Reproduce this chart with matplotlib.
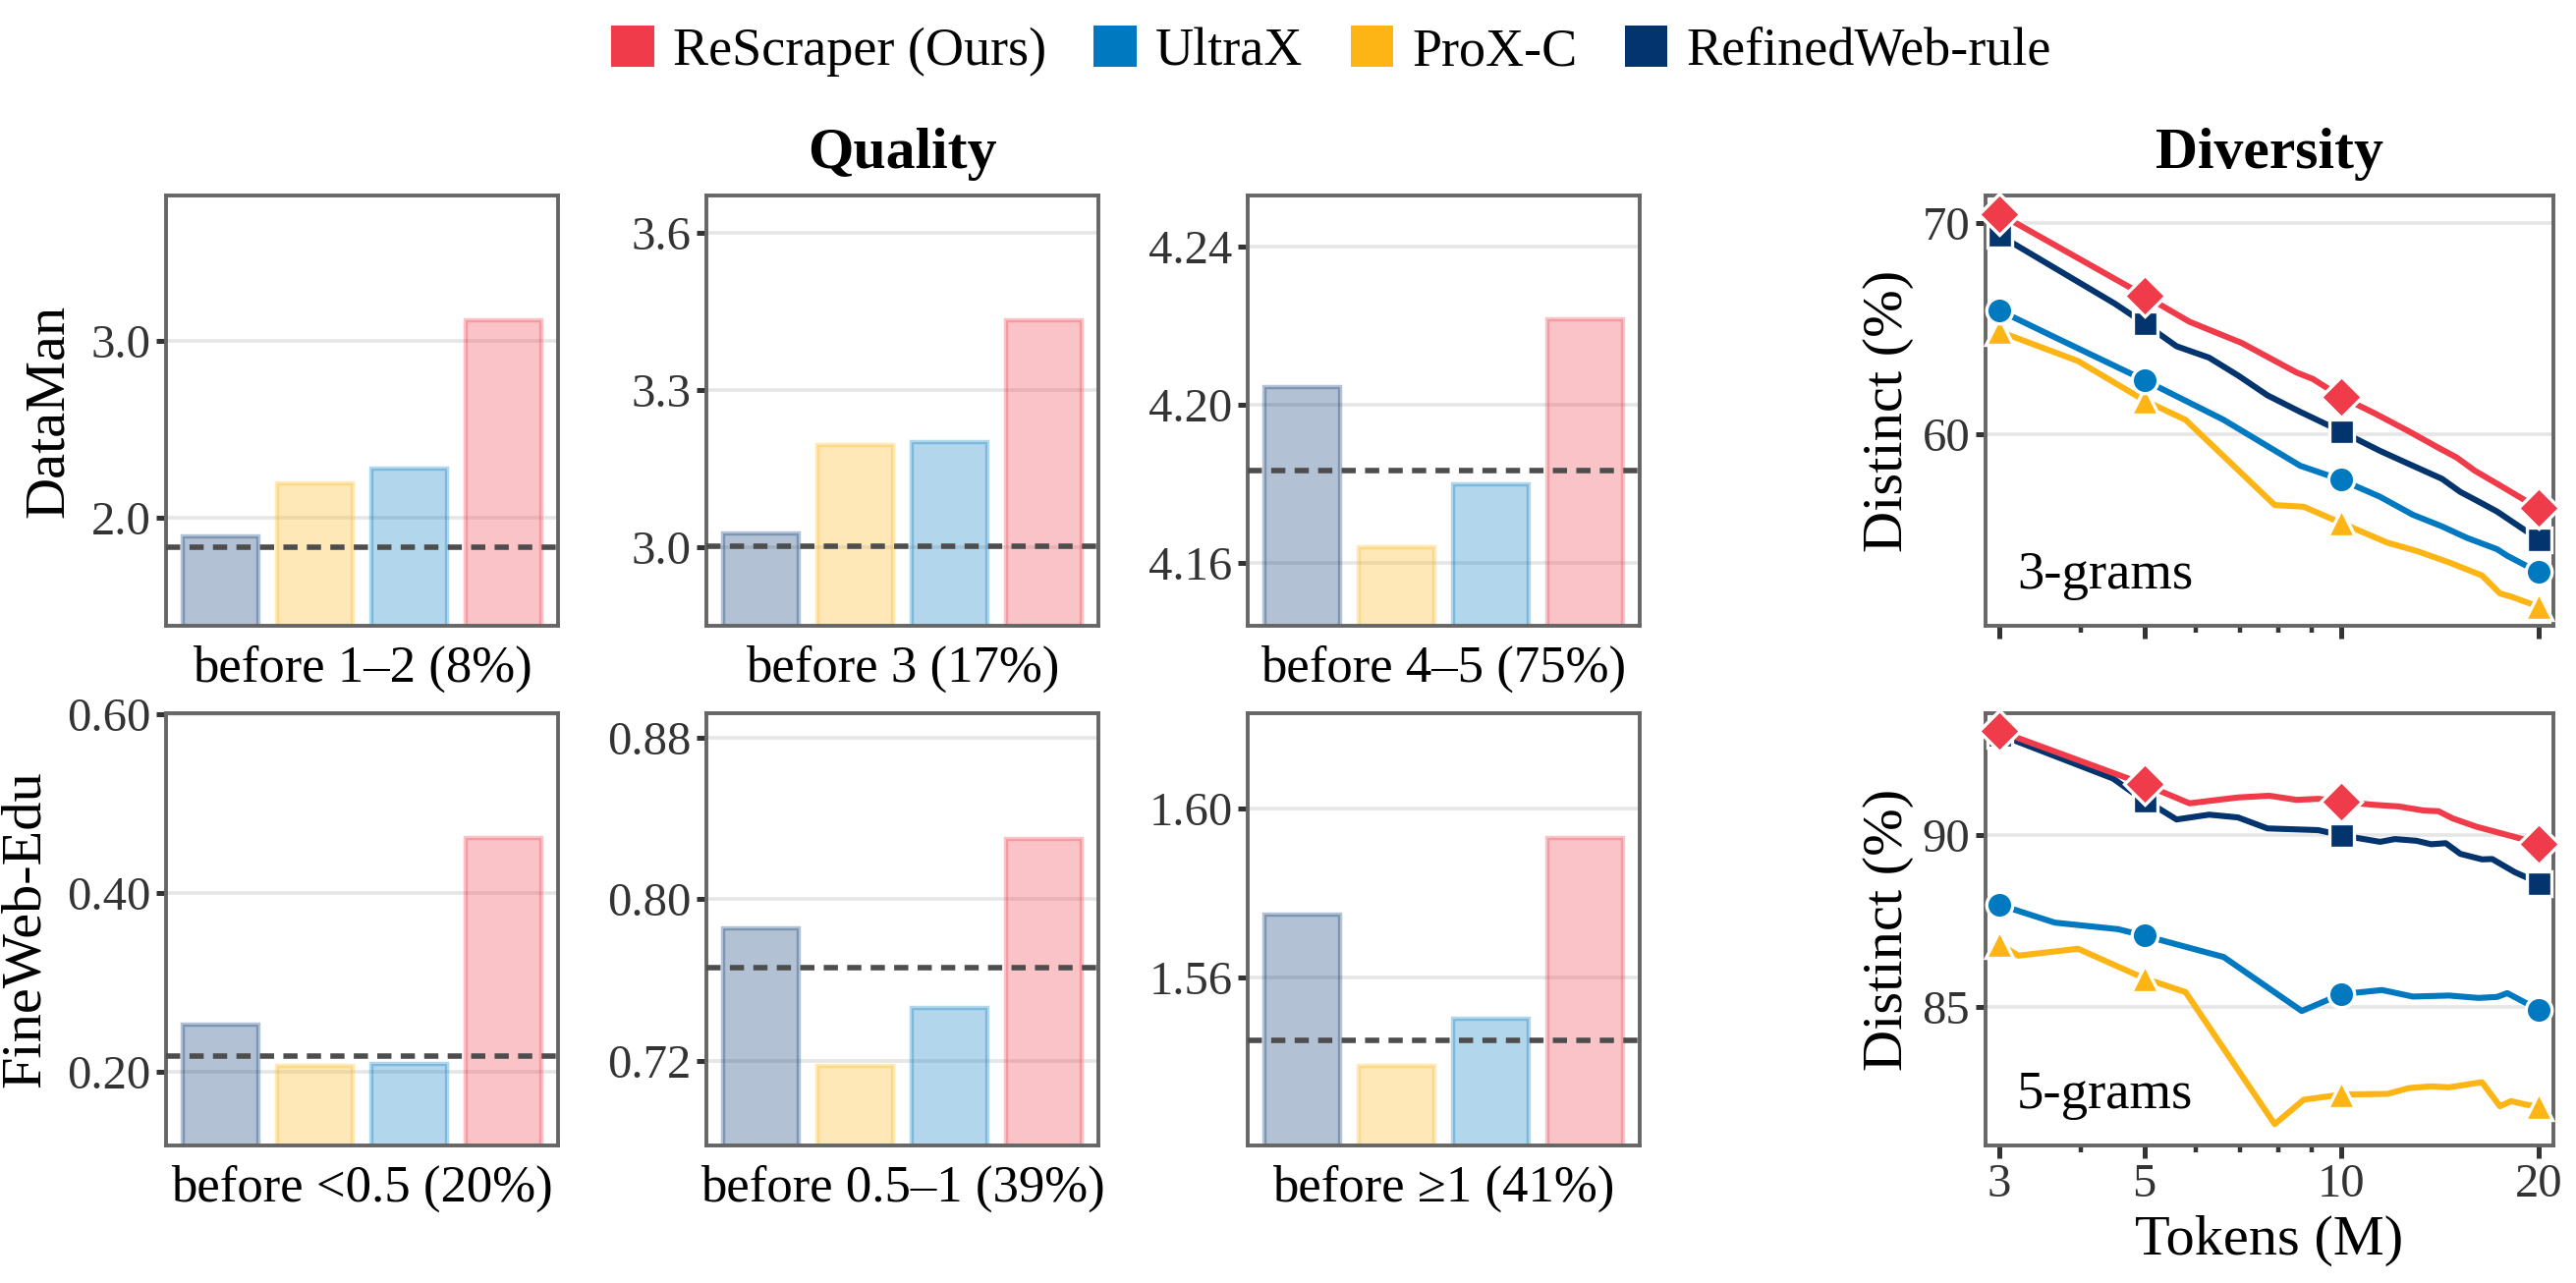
import numpy as np
import matplotlib
matplotlib.use("Agg")
import matplotlib.pyplot as plt
from matplotlib.patches import Patch
from matplotlib.ticker import FixedLocator, NullFormatter, FormatStrFormatter

plt.rcParams['font.family'] = ['Liberation Serif', 'DejaVu Serif']

# ---------------- data ----------------
metodos = ['RefinedWeb-rule', 'ProX-C', 'UltraX', 'ReScraper (Ours)']
colores = {'ReScraper (Ours)': '#EF3B4A', 'UltraX': '#0079C1',
           'ProX-C': '#FDB515', 'RefinedWeb-rule': '#03346E'}

# calidad (barras): orden RefinedWeb, ProX-C, UltraX, ReScraper
dataman_etiquetas = ['before 1–2 (8%)', 'before 3 (17%)', 'before 4–5 (75%)']
dataman_valores = [[1.897, 2.197, 2.277, 3.116],
                   [3.025, 3.194, 3.201, 3.434],
                   [4.2044, 4.1641, 4.1799, 4.2215]]
dataman_antes = [1.837, 3.002, 4.1833]
dataman_ticks = [[2.0, 3.0], [3.0, 3.3, 3.6], [4.16, 4.20, 4.24]]
dataman_lims = [(1.393, 3.818), (2.849, 3.672), (4.1442, 4.2528)]

fineweb_etiquetas = ['before <0.5 (20%)', 'before 0.5–1 (39%)', 'before ≥1 (41%)']
fineweb_valores = [[0.252, 0.2066, 0.2084, 0.4613],
                   [0.7854, 0.7177, 0.7464, 0.830],
                   [1.5749, 1.5391, 1.5502, 1.5929]]
fineweb_antes = [0.2168, 0.7662, 1.5451]
fineweb_ticks = [[0.20, 0.40, 0.60], [0.72, 0.80, 0.88], [1.56, 1.60]]
fineweb_lims = [(0.117, 0.601), (0.6783, 0.8919), (1.5202, 1.6225)]

# diversidad (lineas): tokens (M) y distinct (%)
tri_x = {
    'ReScraper (Ours)': [3, 5, 5.86, 7.05, 8.54, 9.05, 10, 11.24, 12.69, 14.07, 15.0, 15.98, 17.47, 20],
    'RefinedWeb-rule': [3, 4.51, 5, 5.60, 6.28, 6.96, 7.71, 8.65, 10, 11.46, 12.69, 14.25, 15.2, 16.4, 17.3, 20],
    'UltraX': [3, 3.63, 5, 6.61, 8.65, 10, 11.46, 12.86, 14.25, 15.55, 17.3, 17.93, 20],
    'ProX-C': [3, 3.19, 3.96, 5, 5.78, 7.91, 8.76, 10, 11.76, 13.03, 14.6, 16.4, 17.47, 18.17, 20],
}
tri_y = {
    'ReScraper (Ours)': [70.42, 66.55, 65.31, 64.30, 62.91, 62.60, 61.75, 60.98, 60.12, 59.35, 58.89, 58.27, 57.57, 56.49],
    'RefinedWeb-rule': [69.41, 66.16, 65.23, 64.15, 63.61, 62.76, 61.83, 61.05, 60.12, 59.20, 58.58, 57.88, 57.26, 56.72, 56.33, 55.02],
    'UltraX': [65.85, 64.61, 62.55, 60.67, 58.50, 57.83, 57.03, 56.18, 55.63, 55.09, 54.55, 54.24, 53.47],
    'ProX-C': [64.85, 64.54, 63.45, 61.59, 60.67, 56.64, 56.56, 55.79, 54.86, 54.47, 53.93, 53.31, 52.46, 52.31, 51.84],
}
cinco_x = {
    'ReScraper (Ours)': [3, 5, 5.86, 6.95, 7.76, 8.54, 9.22, 10, 11.14, 12.22, 13.36, 14.07, 14.8, 16.08, 18.17, 20],
    'RefinedWeb-rule': [3, 4.48, 5, 5.25, 5.60, 6.28, 6.95, 7.71, 9.22, 10, 11.46, 12.07, 13.03, 13.71, 14.44, 15.2, 16.4, 17.0, 18.4, 20],
    'UltraX': [3, 3.65, 4.56, 5, 6.61, 8.70, 10, 11.54, 12.86, 14.6, 16.2, 17.3, 17.93, 20],
    'ProX-C': [3, 3.21, 3.96, 5, 5.78, 7.91, 8.76, 10, 11.76, 12.69, 13.71, 14.6, 16.4, 17.47, 18.17, 19.11, 20],
}
cinco_y = {
    'ReScraper (Ours)': [93.03, 91.48, 90.93, 91.10, 91.15, 91.03, 91.06, 90.98, 90.89, 90.84, 90.72, 90.70, 90.49, 90.25, 89.98, 89.76],
    'RefinedWeb-rule': [92.93, 91.65, 91.0, 90.79, 90.46, 90.60, 90.52, 90.20, 90.15, 90.0, 89.81, 89.89, 89.84, 89.74, 89.77, 89.46, 89.30, 89.31, 88.93, 88.62],
    'UltraX': [87.98, 87.46, 87.27, 87.08, 86.46, 84.89, 85.38, 85.50, 85.31, 85.34, 85.27, 85.30, 85.41, 84.93],
    'ProX-C': [86.84, 86.50, 86.70, 85.84, 85.44, 81.60, 82.31, 82.46, 82.48, 82.65, 82.70, 82.67, 82.82, 82.12, 82.27, 82.17, 82.12],
}
tokens_marcados = [3, 5, 10, 20]
marcadores = {'ReScraper (Ours)': ('D', 10.5), 'UltraX': ('o', 9.5),
              'ProX-C': ('^', 10), 'RefinedWeb-rule': ('s', 9)}

# ---------------- figura ----------------
W, H = 2622, 1306
fig = plt.figure(figsize=(W / 200, H / 200), dpi=200)


def caja(x0, y0, x1, y1):
    return [x0 / W, 1 - y1 / H, (x1 - x0) / W, (y1 - y0) / H]


GRIS_SPINE = '#666666'
GRIS_TEXTO = '#333333'


def estilo(ax):
    for s in ax.spines.values():
        s.set_color(GRIS_SPINE)
        s.set_linewidth(1.4)
    ax.tick_params(axis='both', which='major', direction='out', length=3.5, width=1.8,
                   color=GRIS_TEXTO, labelcolor=GRIS_TEXTO, labelsize=17.5, pad=2)
    ax.grid(axis='y', color='#E6E6E6', linewidth=1.3)
    ax.set_axisbelow(True)


def graficar_barras(ax, valores, antes, ticks, lims, etiqueta, formato):
    pos = np.arange(len(metodos))
    for p, m, v in zip(pos, metodos, valores):
        ax.bar(p, v, width=0.8, color=colores[m], alpha=0.3,
               edgecolor=colores[m], linewidth=1.6, zorder=2)
    ax.axhline(antes, color='#4D4D4D', linewidth=2.0, linestyle=(0, (2.6, 1.7)), zorder=3)
    ax.set_xlim(-0.58, 3.58)
    ax.set_ylim(*lims)
    ax.set_xticks([])
    ax.yaxis.set_major_locator(FixedLocator(ticks))
    ax.yaxis.set_major_formatter(FormatStrFormatter(formato))
    ax.set_xlabel(etiqueta, fontsize=19, labelpad=7)
    estilo(ax)


lefts = [169, 719, 1270]
filas = [(199, 637), (726, 1166)]
formatos_dm = ['%.1f', '%.1f', '%.2f']

for i in range(3):
    ax = fig.add_axes(caja(lefts[i], filas[0][0], lefts[i] + 399, filas[0][1]))
    graficar_barras(ax, dataman_valores[i], dataman_antes[i], dataman_ticks[i],
                    dataman_lims[i], dataman_etiquetas[i], formatos_dm[i])
    if i == 0:
        ax.set_ylabel('DataMan', fontsize=21, labelpad=6)
    if i == 1:
        ax.set_title('Quality', fontsize=21.5, fontweight='bold', pad=10)

    ax = fig.add_axes(caja(lefts[i], filas[1][0], lefts[i] + 399, filas[1][1]))
    graficar_barras(ax, fineweb_valores[i], fineweb_antes[i], fineweb_ticks[i],
                    fineweb_lims[i], fineweb_etiquetas[i], '%.2f')
    if i == 0:
        ax.set_ylabel('FineWeb-Edu', fontsize=21, labelpad=6)


def graficar_lineas(ax, xs, ys, lims, ticks, texto):
    for m in ['ProX-C', 'UltraX', 'RefinedWeb-rule', 'ReScraper (Ours)']:
        x = np.array(xs[m], dtype=float)
        y = np.array(ys[m], dtype=float)
        idx = list(np.where(np.isin(x, tokens_marcados))[0])
        mk, ms = marcadores[m]
        ax.plot(x, y, color=colores[m], linewidth=2.2, marker=mk, markersize=ms,
                markevery=idx, markeredgecolor='white', markeredgewidth=1.2,
                zorder=3, clip_on=False)
    ax.set_xscale('log')
    ax.set_xlim(2.855, 21.05)
    ax.set_ylim(*lims)
    ax.set_xticks(tokens_marcados)
    ax.xaxis.set_minor_formatter(NullFormatter())
    ax.yaxis.set_major_locator(FixedLocator(ticks))
    ax.set_ylabel('Distinct (%)', fontsize=21, labelpad=3)
    ax.text(0.056, 0.087, texto, transform=ax.transAxes, fontsize=19.7, color='black')
    estilo(ax)
    ax.tick_params(axis='x', which='major', length=4.5, width=1.8)
    ax.tick_params(axis='x', which='minor', length=2.5, width=1.6, color=GRIS_TEXTO)


ax_tri = fig.add_axes(caja(2020.5, 199, 2598.5, 637))
graficar_lineas(ax_tri, tri_x, tri_y, (50.93, 71.28), [60, 70], '3-grams')
ax_tri.xaxis.set_major_formatter(NullFormatter())
ax_tri.set_title('Diversity', fontsize=21.5, fontweight='bold', pad=10)

ax_cin = fig.add_axes(caja(2020.5, 726, 2598.5, 1166))
graficar_lineas(ax_cin, cinco_x, cinco_y, (80.98, 93.55), [85, 90], '5-grams')
ax_cin.set_xticklabels(['3', '5', '10', '20'])
ax_cin.set_xlabel('Tokens (M)', fontsize=21, labelpad=3)

# leyenda
orden = ['ReScraper (Ours)', 'UltraX', 'ProX-C', 'RefinedWeb-rule']
manejadores = [Patch(facecolor=colores[m], edgecolor='none', label=m) for m in orden]
fig.legend(handles=manejadores, loc='center', bbox_to_anchor=(0.5168, 0.960), ncol=4,
           frameon=False, fontsize=19.5, handlelength=0.8, handleheight=0.8,
           handletextpad=0.35, columnspacing=0.9)

fig.savefig('out.png', dpi=200)
